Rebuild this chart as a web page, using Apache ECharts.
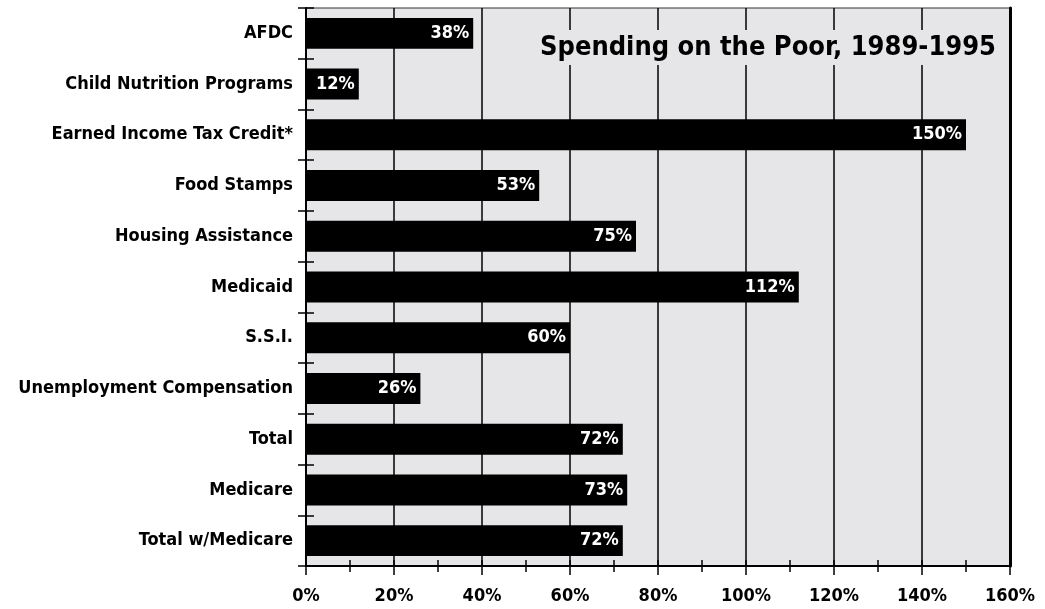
<!DOCTYPE html>
<html>
<head>
<meta charset="utf-8">
<script src="https://cdn.jsdelivr.net/npm/echarts@6/dist/echarts.min.js"></script>
<style>
html,body{margin:0;padding:0;background:#fff;}
#c{width:1045px;height:609px;}
</style>
</head>
<body>
<div id="c"></div>
<script>
const categories = ["AFDC","Child Nutrition Programs","Earned Income Tax Credit*","Food Stamps","Housing Assistance","Medicaid","S.S.I.","Unemployment Compensation","Total","Medicare","Total w/Medicare"];
const values = [38,12,150,53,75,112,60,26,72,73,72];
const titleText = "Spending on the Poor, 1989-1995";
const xMin = 0, xMax = 160, xStep = 20;

const FONT = "'Liberation Sans Narrow','DejaVu Sans Condensed','Arial Narrow',sans-serif";
const chart = echarts.init(document.getElementById('c'), null, {renderer:'canvas'});
chart.setOption({
  animation:false,
  backgroundColor:'#fff',
  title:{
    text:titleText,
    right:45, top:30,
    padding:[4,4,4,4],
    backgroundColor:'#e6e6e8',
    textStyle:{fontFamily:FONT,fontWeight:'bold',fontSize:27,color:'#000'}
  },
  grid:{left:306,right:35,top:8,bottom:43,containLabel:false,outerBoundsMode:'none',show:true,backgroundColor:'#e6e6e8',borderColor:'#333',borderWidth:1},
  xAxis:[{
    type:'value',min:xMin,max:xMax,interval:xStep,position:'bottom',
    axisLine:{show:true,lineStyle:{color:'#000',width:2}},
    axisTick:{show:true,length:9,lineStyle:{color:'#000',width:1.5}},
    minorTick:{show:true,splitNumber:2,length:6,lineStyle:{color:'#000',width:1.5}},
    splitLine:{show:true,lineStyle:{color:'#000',width:1.5}},
    axisLabel:{formatter:'{value}%',fontFamily:FONT,fontWeight:'bold',fontSize:18,color:'#000',margin:21}
  },{
    type:'value',min:xMin,max:xMax,interval:10,position:'bottom',
    axisLine:{show:false},
    axisTick:{show:true,inside:true,length:6,lineStyle:{color:'#000',width:1.5}},
    splitLine:{show:false},axisLabel:{show:false}
  }],
  yAxis:[{
    type:'category',data:categories,inverse:true,position:'left',
    axisLine:{show:true,lineStyle:{color:'#000',width:2}},
    axisTick:{show:true,length:8,lineStyle:{color:'#000',width:1.5}},
    axisLabel:{fontFamily:FONT,fontWeight:'bold',fontSize:18,color:'#000',margin:13}
  },{
    type:'category',data:categories,inverse:true,position:'left',
    axisLine:{show:false},
    axisTick:{show:true,inside:true,length:8,lineStyle:{color:'#000',width:1.5}},
    axisLabel:{show:false}
  },{
    type:'category',data:categories,inverse:true,position:'right',
    axisLine:{show:true,lineStyle:{color:'#000',width:3}},
    axisTick:{show:false},axisLabel:{show:false}
  }],
  series:[{
    type:'bar',data:values,xAxisIndex:0,yAxisIndex:0,
    barCategoryGap:'39%',
    itemStyle:{color:'#000'},
    label:{show:true,position:'insideRight',formatter:'{c}%',color:'#fff',fontFamily:FONT,fontWeight:'bold',fontSize:18,distance:4}
  }]
});
</script>
</body>
</html>
